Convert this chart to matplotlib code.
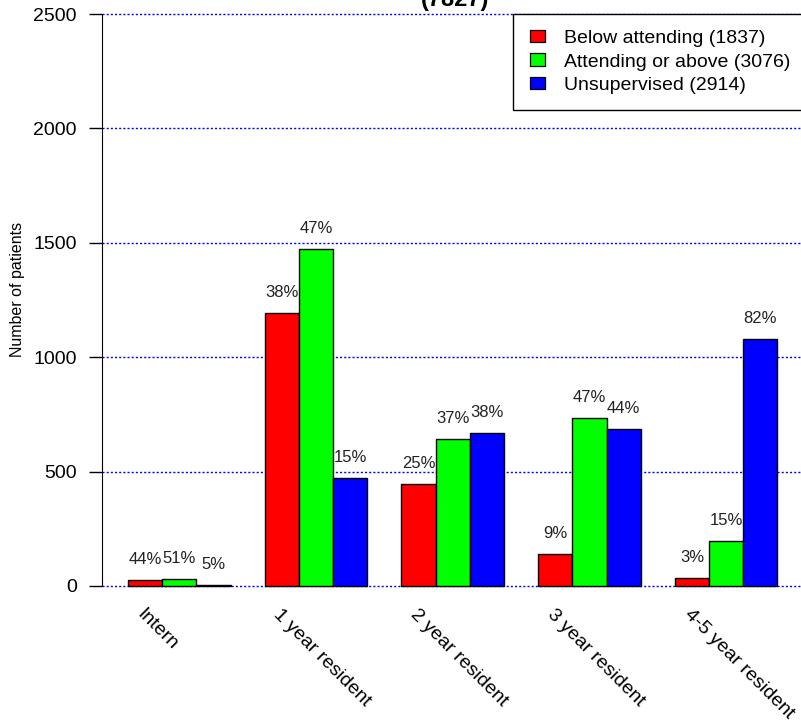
import matplotlib
matplotlib.use('Agg')
import matplotlib.pyplot as plt
import matplotlib.transforms as mtransforms
from matplotlib.patches import Patch

plt.rcParams['font.family'] = ['Liberation Sans', 'DejaVu Sans']

# data
levels = ['Intern', '1 year resident', '2 year resident', '3 year resident', '4-5 year resident']
series = ['Below attending', 'Attending or above', 'Unsupervised']
below = [26, 1192, 445, 140, 34]
attending = [30, 1472, 641, 736, 197]
unsupervised = [3, 474, 668, 688, 1081]
colors = ['#ff0000', '#00ff00', '#0000ff']
yticks = [0, 500, 1000, 1500, 2000, 2500]

values = [below, attending, unsupervised]
totals = [sum(v) for v in values]
grand_total = sum(totals)

W, H = 801, 725
fig = plt.figure(figsize=(W / 100, H / 100), dpi=100)

# plot region (R style: ylim expanded by 4%)
y_lo, y_hi = -100, 2600
px_per_unit = 572 / 2500
bot_px = 586 + 100 * px_per_unit
top_px = 14 - 100 * px_per_unit
ax = fig.add_axes([102 / W, (H - bot_px) / H, 1 - 102 / W, (bot_px - top_px) / H])
ax.set_xlim(0.24, 20.69)
ax.set_ylim(y_lo, y_hi)

for y in yticks:
    ax.axhline(y, color='#0000ff', linestyle=(0, (1.5, 1.5)), lw=1.0, zorder=1)

for g in range(len(levels)):
    group_sum = sum(v[g] for v in values)
    for i, vals in enumerate(values):
        x = 1.5 + 4 * g + i
        ax.bar(x, vals[g], width=1.0, color=colors[i], edgecolor='black',
               linewidth=1.0, zorder=2)
        pct = round(100 * vals[g] / group_sum)
        ax.annotate('%d%%' % pct, (x, vals[g]), xytext=(0, 11.5),
                    textcoords='offset points', ha='center', va='baseline',
                    fontsize=12, color='#222222')

# category labels rotated like R's srt=-45
trans = mtransforms.blended_transform_factory(ax.transData, fig.transFigure)
for g, lab in enumerate(levels):
    ax.text(2.5 + 4 * g - 0.98, 1 - 606 / H, lab, transform=trans,
            rotation=-45, rotation_mode='anchor', ha='left', va='top',
            fontsize=14)

for s in ['top', 'right', 'bottom']:
    ax.spines[s].set_visible(False)
ax.spines['left'].set_bounds(0, 2500)
ax.set_xticks([])
ax.set_yticks(yticks)
ax.set_yticklabels([str(t) for t in yticks])
ax.tick_params(axis='y', length=9.4, width=1.0, pad=8.6, labelsize=14)

fig.text(18 / W, 1 - 289 / H, 'Number of patients', rotation=90,
         ha='center', va='center', fontsize=11.5)

fig.text(455 / W, 1 - 6 / H, '(%d)' % grand_total, ha='center', va='baseline',
         fontsize=17, fontweight='bold')

handles = [Patch(facecolor=c, edgecolor='black', linewidth=0.9) for c in colors]
labels = ['%s (%d)' % (s, t) for s, t in zip(series, totals)]
leg = fig.legend(handles, labels, loc='upper left',
                 bbox_to_anchor=(513 / W, 1 - 13.5 / H), fontsize=14,
                 frameon=True, fancybox=False, shadow=False, framealpha=1,
                 edgecolor='black', borderaxespad=0, borderpad=0.85,
                 handlelength=0.8, handleheight=0.6, handletextpad=0.95,
                 labelspacing=0.33)
leg.get_frame().set_linewidth(1.0)

fig.savefig('out.png', dpi=100)
